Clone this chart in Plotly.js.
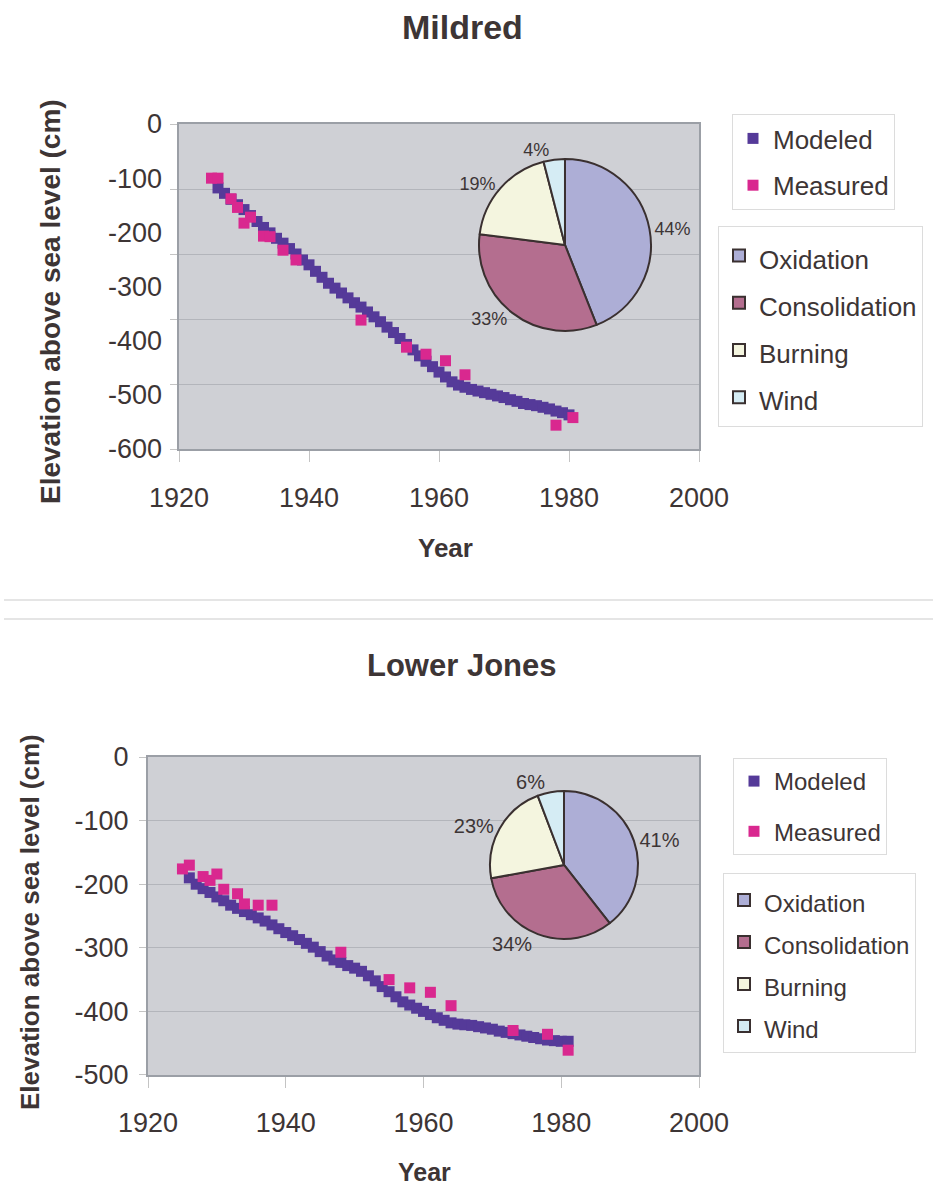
<!DOCTYPE html>
<html>
<head>
<meta charset="utf-8">
<script src="https://cdn.plot.ly/plotly-3.0.1.min.js"></script>
<style>html,body{margin:0;padding:0;background:#fff;}#chart{width:933px;height:1188px;}</style>
</head>
<body>
<div id="chart"></div>
<script>
// ---------- Mildred ----------
const mildredModeledYears = [1926,1927,1928,1929,1930,1931,1932,1933,1934,1935,1936,1937,1938,1939,1940,1941,1942,1943,1944,1945,1946,1947,1948,1949,1950,1951,1952,1953,1954,1955,1956,1957,1958,1959,1960,1961,1962,1963,1964,1965,1966,1967,1968,1969,1970,1971,1972,1973,1974,1975,1976,1977,1978,1979,1980];
const mildredModeled = [-118,-128,-139,-149,-158,-169,-180,-191,-201,-211,-220,-230,-240,-251,-260,-272,-283,-294,-303,-312,-321,-330,-338,-347,-356,-365,-375,-385,-396,-407,-417,-428,-438,-448,-458,-467,-476,-482,-486,-490,-493,-496,-499,-502,-505,-509,-512,-516,-518,-520,-523,-526,-530,-533,-537];
const mildredMeasuredYears = [1925,1926,1928,1929,1930,1931,1933,1934,1936,1938,1948,1955,1958,1961,1964,1978,1980.6];
const mildredMeasured = [-100,-100,-138,-154,-183,-172,-207,-208,-233,-251,-362,-412,-425,-437,-463,-556,-542];
const mildredShares = [44,33,19,4];

// ---------- Lower Jones ----------
const jonesModeledYears = [1926,1927,1928,1929,1930,1931,1932,1933,1934,1935,1936,1937,1938,1939,1940,1941,1942,1943,1944,1945,1946,1947,1948,1949,1950,1951,1952,1953,1954,1955,1956,1957,1958,1959,1960,1961,1962,1963,1964,1965,1966,1967,1968,1969,1970,1971,1972,1973,1974,1975,1976,1977,1978,1979,1980,1981];
const jonesModeled = [-190,-200,-207,-213,-220,-226,-233,-238,-243,-248,-253,-258,-264,-270,-276,-281,-287,-293,-299,-306,-313,-319,-323,-328,-332,-337,-344,-352,-361,-369,-377,-385,-390,-395,-400,-405,-410,-414,-418,-420,-421,-422,-424,-426,-428,-431,-433,-435,-437,-439,-441,-443,-445,-446,-447,-447];
const jonesMeasuredYears = [1925,1926,1928,1929,1930,1931,1933,1934,1936,1938,1948,1955,1958,1961,1964,1973,1978,1981];
const jonesMeasured = [-176,-170,-188,-194,-184,-208,-215,-231,-233,-233,-307,-350,-363,-370,-391,-430,-436,-461];
const jonesShares = [41,34,23,6];

// ---------- shared labels ----------
const pieLabels = ['Oxidation','Consolidation','Burning','Wind'];
const seriesNames = ['Modeled','Measured'];
const xTickVals = [1920,1940,1960,1980,2000];
const mildredYTicks = [0,-100,-200,-300,-400,-500,-600];
const mildredYTickText = ['0','-100','-200','-300','-400','-500','-600'];
const jonesYTicks = [0,-100,-200,-300,-400,-500];
const jonesYTickText = ['0','-100','-200','-300','-400','-500'];
const titles = ['Mildred','Lower Jones'];
const xTitle = 'Year';
const yTitle = 'Elevation above sea level (cm)';

const FONT = 'Liberation Sans, Arial, Helvetica, sans-serif';
const TXT = '#3d3535';
const PURPLE = '#553a99';
const PINK = '#d9288f';
const PIE_COLORS = ['#adaed6','#b46e8f','#f4f5df','#d5ecf4'];
const GRID = '#b3b5bb';
const FRAME = '#9b9fa6';
const TICKC = '#c4c4c4';

function spanLabels(arr, px){ return arr.map(s => '<span style="font-size:'+px+'px">'+s+'</span>'); }

const traces = [
  {type:'scatter', mode:'markers', x:mildredModeledYears, y:mildredModeled, name:seriesNames[0], xaxis:'x', yaxis:'y',
   marker:{symbol:'square', size:11, color:PURPLE}, legend:'legend', legendgroup:'m1'},
  {type:'scatter', mode:'markers', x:mildredMeasuredYears, y:mildredMeasured, name:seriesNames[1], xaxis:'x', yaxis:'y',
   marker:{symbol:'square', size:11, color:PINK}, legend:'legend', legendgroup:'m2'},
  // empty trace so that the label axis (y3) of the top panel is drawn
  {type:'scatter', mode:'markers', x:[], y:[], xaxis:'x', yaxis:'y3', showlegend:false, hoverinfo:'skip'},
  {type:'pie', values:mildredShares, labels:spanLabels(pieLabels,26), sort:false, direction:'clockwise', rotation:0,
   marker:{colors:PIE_COLORS, line:{color:'#3a3030', width:2}},
   textposition:'outside', texttemplate:'%{value}%', textfont:{family:FONT, size:18, color:TXT},
   domain:{x:[0.5134,0.6977], y:[0.7214,0.8662]}, legend:'legend2', automargin:false, hoverinfo:'skip'},
  {type:'scatter', mode:'markers', x:jonesModeledYears, y:jonesModeled, name:seriesNames[0], xaxis:'x2', yaxis:'y2',
   marker:{symbol:'square', size:11, color:PURPLE}, legend:'legend3', legendgroup:'j1'},
  {type:'scatter', mode:'markers', x:jonesMeasuredYears, y:jonesMeasured, name:seriesNames[1], xaxis:'x2', yaxis:'y2',
   marker:{symbol:'square', size:11, color:PINK}, legend:'legend3', legendgroup:'j2'},
  {type:'pie', values:jonesShares, labels:spanLabels(pieLabels,24), sort:false, direction:'clockwise', rotation:0,
   marker:{colors:PIE_COLORS, line:{color:'#3a3030', width:2}},
   textposition:'outside', texttemplate:'%{value}%', textfont:{family:FONT, size:20, color:TXT},
   domain:{x:[0.5252,0.6838], y:[0.2096,0.3342]}, legend:'legend4', automargin:false, hoverinfo:'skip'}
];

const tickFont = {family:FONT, size:27, color:TXT};
function xAxis(domain, anchor, standoff){
  return {domain:domain, anchor:anchor, range:[1920,2000], tickvals:xTickVals, ticks:'outside', ticklen:11,
    tickcolor:TICKC, tickwidth:1, showgrid:false, zeroline:false, showline:true, linecolor:FRAME, linewidth:2,
    mirror:true, tickfont:tickFont, ticklabelstandoff:standoff};
}
function legendBox(x, y, size, gap, order){
  return {x:x, y:y, xanchor:'left', yanchor:'top', bgcolor:'#ffffff', bordercolor:'#dcdcdc', borderwidth:1,
    font:{family:FONT, size:size, color:TXT}, tracegroupgap:gap, traceorder:order};
}

const layout = {
  width:933, height:1188, margin:{l:0,r:0,t:0,b:0}, paper_bgcolor:'#ffffff', plot_bgcolor:'#cfd0d5',
  font:{family:FONT, color:TXT},
  xaxis: xAxis([0.19186,0.7492],'y',13),
  yaxis: {domain:[0.62205,0.89562], anchor:'x', range:[-600,0], tick0:0, dtick:120, ticks:'outside', ticklen:7,
    tickcolor:TICKC, showticklabels:false, showgrid:true, gridcolor:GRID, gridwidth:1, zeroline:false,
    showline:true, linecolor:FRAME, linewidth:2, mirror:true},
  yaxis3: {overlaying:'y', anchor:'x', side:'left', range:[-600,0], tickvals:mildredYTicks, ticktext:mildredYTickText,
    ticks:'', showgrid:false, zeroline:false, showline:false, tickfont:tickFont, ticklabelstandoff:16},
  xaxis2: xAxis([0.15863,0.7492],'y2',12),
  yaxis2: {domain:[0.09512,0.36279], anchor:'x2', range:[-500,0], tickvals:jonesYTicks, ticktext:jonesYTickText,
    ticks:'outside', ticklen:7, tickcolor:TICKC, showgrid:true, gridcolor:GRID, gridwidth:1, zeroline:false,
    showline:true, linecolor:FRAME, linewidth:2, mirror:true, tickfont:tickFont, ticklabelstandoff:5},
  legend: legendBox(732/933, 1-114/1188, 26, 10, 'grouped'),
  legend2: legendBox(718/933, 1-226/1188, 34, 0, 'normal'),
  legend3: legendBox(733/933, 1-758/1188, 24, 16, 'grouped'),
  legend4: legendBox(723/933, 1-873/1188, 30, 0, 'normal'),
  annotations: [
    {text:'<b>'+titles[0]+'</b>', xref:'paper', yref:'paper', x:462/933, y:1-27/1188, showarrow:false,
     xanchor:'center', yanchor:'middle', font:{family:FONT, size:34, color:TXT}},
    {text:'<b>'+titles[1]+'</b>', xref:'paper', yref:'paper', x:462/933, y:1-666/1188, showarrow:false,
     xanchor:'center', yanchor:'middle', font:{family:FONT, size:31, color:TXT}},
    {text:'<b>'+xTitle+'</b>', xref:'paper', yref:'paper', x:445/933, y:1-548/1188, showarrow:false,
     xanchor:'center', yanchor:'middle', font:{family:FONT, size:26, color:TXT}},
    {text:'<b>'+xTitle+'</b>', xref:'paper', yref:'paper', x:424/933, y:1-1172/1188, showarrow:false,
     xanchor:'center', yanchor:'middle', font:{family:FONT, size:25, color:TXT}},
    {text:'<b>'+yTitle+'</b>', xref:'paper', yref:'paper', x:50/933, y:1-302/1188, showarrow:false, textangle:-90,
     xanchor:'center', yanchor:'middle', font:{family:FONT, size:28, color:TXT}},
    {text:'<b>'+yTitle+'</b>', xref:'paper', yref:'paper', x:30/933, y:1-922/1188, showarrow:false, textangle:-90,
     xanchor:'center', yanchor:'middle', font:{family:FONT, size:26, color:TXT}}
  ],
  shapes: [
    {type:'line', xref:'paper', yref:'paper', x0:4/933, x1:1, y0:1-600/1188, y1:1-600/1188, line:{color:'#dcdcdc', width:1.5}},
    {type:'line', xref:'paper', yref:'paper', x0:4/933, x1:1, y0:1-619/1188, y1:1-619/1188, line:{color:'#dcdcdc', width:1.5}}
  ]
};

Plotly.newPlot('chart', traces, layout, {staticPlot:true, displayModeBar:false});
</script>
</body>
</html>
